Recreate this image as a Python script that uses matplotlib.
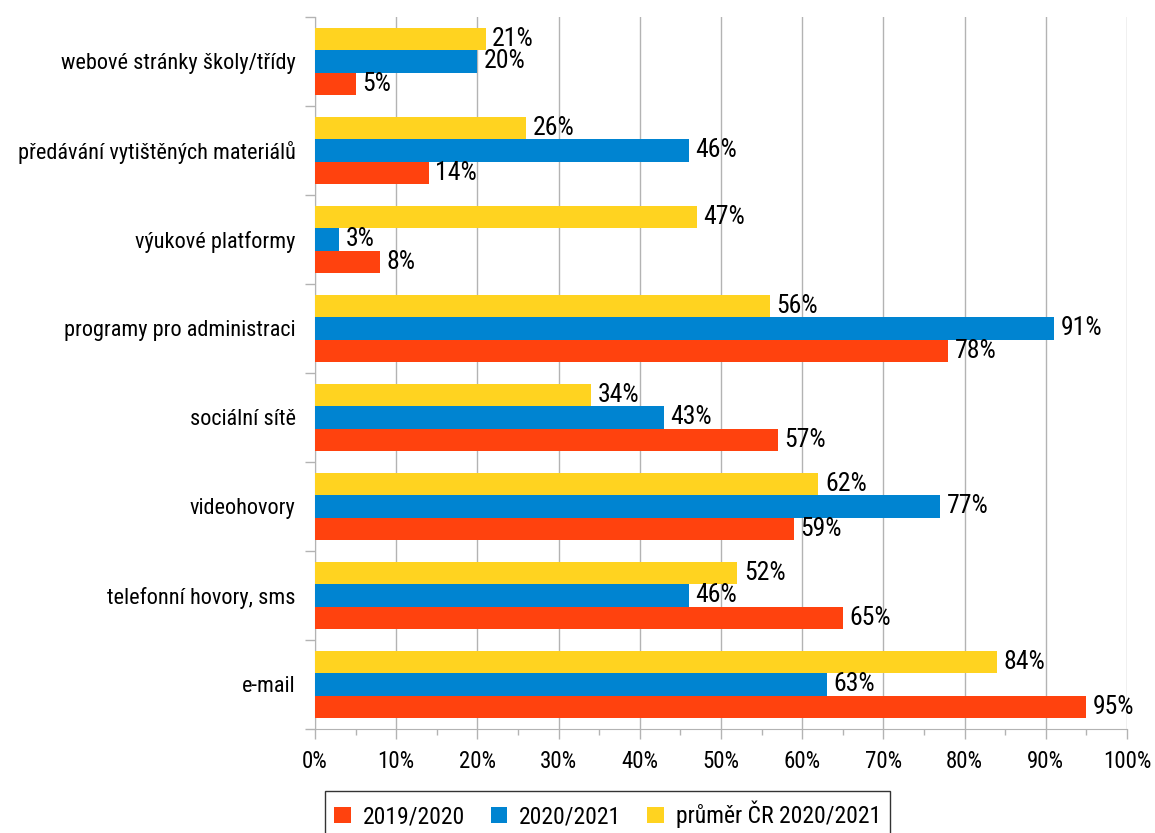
import numpy as np
import matplotlib
matplotlib.use("Agg")
import matplotlib.pyplot as plt
from matplotlib import font_manager
from matplotlib.ticker import MultipleLocator, FixedLocator, PercentFormatter

# prefer a narrow face if one is installed
installed = {f.name for f in font_manager.fontManager.ttflist}
narrow = [n for n in ['Liberation Sans Narrow', 'Roboto Condensed', 'Open Sans Condensed',
                      'Noto Sans Condensed', 'DejaVu Sans Condensed'] if n in installed]
plt.rcParams['font.family'] = narrow + ['Roboto', 'DejaVu Sans']

# categories listed bottom -> top
categories = ['e-mail', 'telefonní hovory, sms', 'videohovory', 'sociální sítě',
              'programy pro administraci', 'výukové platformy',
              'předávání vytištěných materiálů', 'webové stránky školy/třídy']
series_names = ['2019/2020', '2020/2021', 'průměr ČR 2020/2021']
vals_2019 = [95, 65, 59, 57, 78, 8, 14, 5]
vals_2020 = [63, 46, 77, 43, 91, 3, 46, 20]
vals_cr = [84, 52, 62, 34, 56, 47, 26, 21]

colors = ['#FF420E', '#0084D1', '#FFD320']

fig = plt.figure(figsize=(11.55, 8.33), dpi=100)
ax = fig.add_axes([0.2727, 0.1249, 0.7031, 0.8547])

y = np.arange(len(categories))
h = 0.25
offsets = [-h, 0, h]
for vals, off, col, name in zip([vals_2019, vals_2020, vals_cr], offsets, colors, series_names):
    bars = ax.barh(y + off, vals, height=h, color=col, label=name, zorder=3)
    for b, v in zip(bars, vals):
        ax.text(v + 0.8, b.get_y() + b.get_height() / 2, f'{v}%',
                va='center', ha='left', fontsize=18.5, zorder=4)

ax.set_xlim(0, 100)
ax.set_ylim(-0.5, len(categories) - 0.5)

ax.xaxis.set_major_locator(MultipleLocator(10))
ax.xaxis.set_minor_locator(MultipleLocator(5))
ax.xaxis.set_major_formatter(PercentFormatter(decimals=0))
ax.tick_params(axis='x', which='major', length=7, width=1, color='#b3b3b3',
               labelsize=16.5, pad=8)
ax.tick_params(axis='x', which='minor', length=4, width=1, color='#b3b3b3')

ax.set_yticks(y)
ax.set_yticklabels(categories)
ax.yaxis.set_minor_locator(FixedLocator(np.arange(-0.5, len(categories), 1)))
ax.tick_params(axis='y', which='major', length=0, labelsize=16, pad=14)
ax.tick_params(axis='y', which='minor', length=7, width=1, color='#b3b3b3')

ax.grid(axis='x', color='#b3b3b3', linewidth=1, zorder=0)
for s in ['top', 'right']:
    ax.spines[s].set_visible(False)
for s in ['left', 'bottom']:
    ax.spines[s].set_color('#b3b3b3')

leg = fig.legend(loc='upper center', bbox_to_anchor=(0.526, 0.05), ncol=3,
                 fontsize=17, frameon=True, fancybox=False, edgecolor='black',
                 handlelength=0.7, handleheight=0.7, handletextpad=0.5,
                 columnspacing=1.1, borderpad=0.4, borderaxespad=0)
leg.get_frame().set_linewidth(1)

fig.savefig('out.png', dpi=100)
